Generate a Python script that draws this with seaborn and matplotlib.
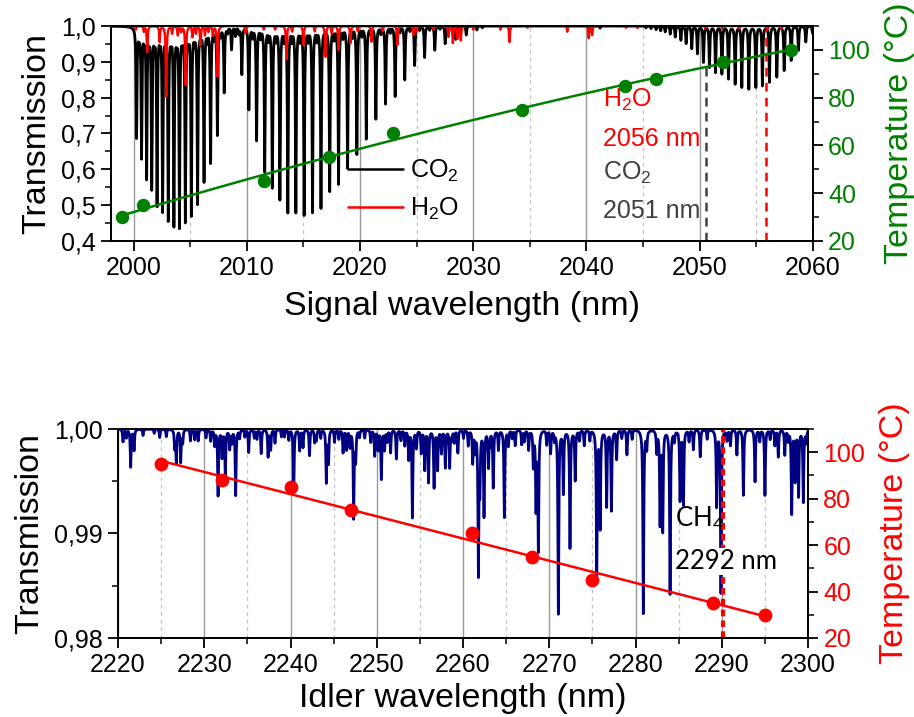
import numpy as np
import pandas as pd
import matplotlib
matplotlib.use('Agg')
import matplotlib.pyplot as plt
from matplotlib.ticker import MultipleLocator, FuncFormatter
from matplotlib.lines import Line2D
import seaborn as sns

# ---- top panel: CO2 / H2O line lists (centre nm, transmission at centre)
co2_nm = [2000.26, 2000.70, 2001.15, 2001.60, 2002.07, 2002.56, 2003.06, 2003.56,
          2004.05, 2004.57, 2005.10, 2005.65, 2006.22, 2006.80, 2007.40, 2008.00,
          2008.65, 2009.56, 2010.18, 2010.86, 2011.58, 2012.25, 2012.92, 2013.62,
          2014.33, 2015.06, 2015.80, 2016.55, 2017.32, 2018.10, 2018.90, 2019.72,
          2020.55, 2021.40, 2022.25, 2023.10, 2023.95, 2024.82, 2025.70, 2026.60,
          2027.52, 2028.45, 2029.38, 2030.32, 2040.3, 2041.2,
          2045.25, 2045.70, 2046.15, 2046.55, 2046.95, 2047.40, 2047.84, 2048.34,
          2048.80, 2049.30, 2049.80, 2050.33, 2050.86, 2051.40, 2051.96, 2052.54,
          2053.13, 2053.72, 2054.34, 2054.96, 2055.54, 2056.16, 2056.81, 2057.46,
          2058.08, 2058.72, 2059.37, 2059.96]
co2_t = [0.693, 0.640, 0.584, 0.556, 0.510, 0.493, 0.468, 0.453,
         0.449, 0.463, 0.481, 0.512, 0.573, 0.624, 0.700, 0.818,
         0.937, 0.868, 0.770, 0.684, 0.598, 0.553, 0.521, 0.485,
         0.485, 0.478, 0.485, 0.496, 0.543, 0.562, 0.607, 0.645,
         0.687, 0.742, 0.784, 0.805, 0.851, 0.891, 0.913, 0.933,
         0.951, 0.963, 0.975, 0.989, 0.995, 0.994,
         0.995, 0.993, 0.990, 0.987, 0.984, 0.978, 0.970, 0.961,
         0.952, 0.938, 0.924, 0.900, 0.886, 0.872, 0.868, 0.854,
         0.840, 0.831, 0.826, 0.831, 0.835, 0.845, 0.859, 0.877,
         0.905, 0.933, 0.956, 0.980]
# weak hot-band lines sitting between the strong ones
co2_weak_nm = [2000.48, 2000.93, 2001.38, 2001.84, 2002.32, 2002.81, 2003.31, 2003.81,
               2004.31, 2004.84, 2005.38, 2005.94, 2006.51, 2007.10, 2007.70, 2008.30,
               2009.00, 2009.30, 2010.52, 2011.22, 2011.92, 2012.58, 2013.27, 2013.98,
               2014.70, 2015.43, 2016.18, 2016.94, 2017.71, 2018.50, 2019.31, 2020.14,
               2020.98, 2021.83, 2022.68, 2023.52, 2024.40, 2025.26, 2026.15, 2027.06,
               2027.98, 2028.90, 2030.8]
co2_weak_t = [0.975, 0.972, 0.972, 0.970, 0.972, 0.968, 0.970, 0.968,
              0.968, 0.970, 0.970, 0.972, 0.972, 0.975, 0.980, 0.985,
              0.975, 0.982, 0.975, 0.975, 0.972, 0.972, 0.970, 0.970,
              0.970, 0.970, 0.970, 0.972, 0.972, 0.975, 0.975, 0.978,
              0.980, 0.982, 0.985, 0.985, 0.988, 0.990, 0.990, 0.992,
              0.993, 0.995, 0.995]
h2o_nm = [2000.20, 2000.90, 2001.20, 2002.30, 2002.88, 2003.40, 2003.90, 2004.20,
          2004.60, 2005.20, 2005.50, 2005.90, 2006.30, 2006.60, 2007.00, 2007.40,
          2009.90, 2011.50, 2012.50, 2013.50, 2014.00, 2015.00, 2016.00, 2016.95,
          2017.50, 2018.10, 2019.15, 2019.80, 2021.00, 2022.00, 2023.30, 2024.70,
          2025.00, 2026.50, 2027.80, 2028.20, 2028.60, 2028.90, 2030.00, 2032.40,
          2033.20, 2034.80, 2038.30, 2040.20, 2040.50, 2043.50, 2044.50, 2050.50,
          2052.00, 2053.50, 2056.00, 2057.20]
h2o_t = [0.990, 0.985, 0.928, 0.956, 0.803, 0.980, 0.975, 0.985,
         0.835, 0.970, 0.980, 0.947, 0.975, 0.985, 0.975, 0.859,
         0.980, 0.990, 0.990, 0.907, 0.985, 0.947, 0.985, 0.914,
         0.980, 0.933, 0.952, 0.985, 0.956, 0.985, 0.947, 0.975,
         0.984, 0.990, 0.970, 0.953, 0.965, 0.960, 0.990, 0.990,
         0.955, 0.995, 0.984, 0.966, 0.975, 0.995, 0.994, 0.993,
         0.992, 0.993, 0.990, 0.992]

sig_nm = [1999.0, 2000.8, 2011.5, 2017.3, 2022.9, 2034.3, 2043.4, 2046.1, 2052.1, 2058.1]
sig_temp = [30, 35, 45, 55, 65, 75, 85, 88, 95, 100]

# ---- bottom panel: CH4 line list
ch4_nm = [2220.58, 2220.97, 2221.47, 2221.86, 2224.20, 2224.83, 2226.57, 2226.76,
          2227.27, 2227.50, 2228.40, 2229.30, 2230.74, 2231.20, 2231.60, 2232.06,
          2232.44, 2232.95, 2233.64, 2234.10, 2234.70, 2235.15, 2235.80, 2236.60,
          2237.40, 2237.70, 2238.20, 2238.95, 2239.80, 2240.37, 2241.06, 2241.45,
          2242.20, 2242.80, 2243.50, 2244.15, 2244.40, 2245.10, 2246.09, 2246.50,
          2246.90, 2247.32, 2247.55, 2248.00, 2249.30, 2249.76, 2250.15, 2250.53,
          2250.90, 2251.60, 2252.27, 2253.25, 2253.70, 2254.13, 2254.60, 2255.15,
          2255.56, 2256.00, 2256.64, 2257.05, 2257.50, 2257.95, 2258.45, 2259.00,
          2259.40, 2260.05, 2260.60, 2261.12, 2261.40, 2261.78, 2261.95, 2262.43,
          2262.95, 2263.50, 2264.10, 2264.79, 2265.25, 2266.05, 2266.80, 2267.60,
          2268.15, 2268.46, 2268.73, 2269.70, 2270.15, 2271.05, 2271.63, 2272.40,
          2273.00, 2274.05, 2274.70, 2275.50, 2275.90, 2276.65, 2277.20, 2277.80,
          2279.00, 2280.90, 2281.30, 2282.45, 2282.84, 2283.15, 2284.00, 2285.16,
          2285.55, 2286.70, 2287.50, 2289.40, 2289.90, 2291.00, 2291.75, 2292.50,
          2293.85, 2295.00, 2296.15, 2296.55, 2297.30, 2298.10, 2298.50, 2298.90,
          2299.45,
          2222.9, 2225.6, 2228.9, 2230.2, 2233.2, 2236.1, 2239.3, 2243.0,
          2245.6, 2248.6, 2251.2, 2252.8, 2258.7, 2263.1, 2265.7, 2267.1,
          2270.6, 2273.5, 2278.4, 2279.6, 2284.5, 2286.2, 2288.3, 2290.6,
          2294.4, 2295.6, 2297.7, 2299.8]
ch4_t = [0.9988, 0.9992, 0.9964, 0.9980, 0.9996, 0.9992, 0.9983, 0.9969,
         0.9969, 0.9988, 0.9989, 0.9989, 0.9989, 0.9985, 0.9937, 0.9974,
         0.9954, 0.9982, 0.9937, 0.9992, 0.9993, 0.9978, 0.9992, 0.9977,
         0.9974, 0.9981, 0.9987, 0.9993, 0.9990, 0.9940, 0.9980, 0.9983,
         0.9975, 0.9988, 0.9992, 0.9950, 0.9969, 0.9988, 0.9978, 0.9981,
         0.9984, 0.9916, 0.9972, 0.9993, 0.9988, 0.9975, 0.9981, 0.9953,
         0.9981, 0.9978, 0.9972, 0.9985, 0.9972, 0.9916, 0.9983, 0.9978,
         0.9962, 0.9950, 0.9945, 0.9962, 0.9978, 0.9964, 0.9964, 0.9988,
         0.9978, 0.9992, 0.9985, 0.9969, 0.9981, 0.9865, 0.9950, 0.9918,
         0.9966, 0.9945, 0.9981, 0.9916, 0.9985, 0.9985, 0.9986, 0.9981,
         0.9966, 0.9926, 0.9886, 0.9986, 0.9978, 0.9824, 0.9940, 0.9887,
         0.9952, 0.9985, 0.9990, 0.9862, 0.9907, 0.9927, 0.9923, 0.9972,
         0.9976, 0.9824, 0.9983, 0.9979, 0.9911, 0.9905, 0.9843, 0.9933,
         0.9929, 0.9981, 0.9974, 0.9927, 0.9844, 0.9985, 0.9976, 0.9937,
         0.9950, 0.9937, 0.9985, 0.9974, 0.9976, 0.9920, 0.9952, 0.9937,
         0.9931,
         0.9994, 0.9993, 0.9990, 0.9992, 0.9988, 0.9991, 0.9993, 0.9990,
         0.9991, 0.9992, 0.9989, 0.9990, 0.9991, 0.9990, 0.9992, 0.9989,
         0.9991, 0.9990, 0.9992, 0.9991, 0.9990, 0.9989, 0.9991, 0.9990,
         0.9989, 0.9991, 0.9990, 0.9988]

idl_nm = [2225, 2232, 2240, 2247, 2261, 2268, 2275, 2289, 2295]
idl_temp = [95, 88, 85, 75, 65, 55, 45, 35, 30]


def spectrum(grid, centres, trans, hwhm):
    out = np.ones_like(grid)
    for c, t in zip(centres, trans):
        out -= (1 - t) / (1 + ((grid - c) / hwhm) ** 2)
    return out


sns.set_style('white')
plt.rcParams['font.family'] = ['Liberation Sans', 'DejaVu Sans']
plt.rcParams['mathtext.fontset'] = 'custom'
plt.rcParams['mathtext.rm'] = 'Liberation Sans'
plt.rcParams['mathtext.it'] = 'Liberation Sans:italic'
plt.rcParams['text.color'] = 'black'
plt.rcParams['axes.labelcolor'] = 'black'
plt.rcParams['xtick.color'] = 'black'
plt.rcParams['ytick.color'] = 'black'

GREEN = '#008000'
RED = '#ff0000'
NAVY = '#000080'
GREY = '#404040'
TICK = 18
LAB = 24.5

fig = plt.figure(figsize=(9.14, 7.17), dpi=100)
ax1 = fig.add_axes([0.1214, 0.6639, 0.768, 0.2999])
ax1r = ax1.twinx()
ax2 = fig.add_axes([0.1291, 0.1102, 0.755, 0.2915])
ax2r = ax2.twinx()

# top spectra
wl = np.linspace(1998, 2060, 14000)
top = pd.DataFrame({
    'wl': wl,
    'co2': spectrum(wl, co2_nm + co2_weak_nm, co2_t + co2_weak_t, 0.045),
    'h2o': spectrum(wl, h2o_nm, h2o_t, 0.045),
})
sns.lineplot(data=top, x='wl', y='co2', color='black', lw=2.0, ax=ax1,
             estimator=None, sort=False)
sns.lineplot(data=top, x='wl', y='h2o', color=RED, lw=1.7, ax=ax1,
             estimator=None, sort=False)
ax1.vlines(2050.6, 0.4, 0.9, colors=GREY, linestyles=(0, (3.5, 2.5)), lw=1.8)
ax1.vlines(2055.9, 0.4, 1.0, colors=RED, linestyles=(0, (3.5, 2.5)), lw=1.8)

sns.regplot(x=sig_nm, y=sig_temp, order=2, ci=None, color=GREEN, ax=ax1r,
            scatter_kws={'s': 75, 'alpha': 1, 'zorder': 3},
            line_kws={'lw': 1.8})

# bottom spectrum
wl2 = np.linspace(2220, 2300, 16000)
bot = pd.DataFrame({'wl': wl2, 'ch4': spectrum(wl2, ch4_nm, ch4_t, 0.06)})
sns.lineplot(data=bot, x='wl', y='ch4', color=NAVY, lw=2.0, ax=ax2,
             estimator=None, sort=False)
ax2.vlines(2290.1, 0.98, 1.0, colors=RED, linestyles=(0, (1.6, 1.0)), lw=3)

sns.regplot(x=idl_nm, y=idl_temp, order=1, ci=None, color=RED, ax=ax2r,
            scatter_kws={'s': 80, 'alpha': 1, 'zorder': 3},
            line_kws={'lw': 1.8})

# axes cosmetics
ax1.set_xlim(1998, 2060)
ax1.set_ylim(0.4, 1.0)
ax1r.set_ylim(20, 110)
ax2.set_xlim(2220, 2300)
ax2.set_ylim(0.98, 1.0)
ax2r.set_ylim(20, 110)

ax1.yaxis.set_major_locator(MultipleLocator(0.1))
ax1.yaxis.set_minor_locator(MultipleLocator(0.05))
ax1.yaxis.set_major_formatter(FuncFormatter(lambda v, p: f'{v:.1f}'.replace('.', ',')))
ax2.yaxis.set_major_locator(MultipleLocator(0.01))
ax2.yaxis.set_minor_locator(MultipleLocator(0.005))
ax2.yaxis.set_major_formatter(FuncFormatter(lambda v, p: f'{v:.2f}'.replace('.', ',')))

for ax in (ax1, ax2):
    ax.xaxis.set_major_locator(MultipleLocator(10))
    ax.xaxis.set_minor_locator(MultipleLocator(5))
    ax.grid(which='major', axis='x', color='#999999', lw=1.0)
    ax.grid(which='minor', axis='x', color='#c4c4c4', lw=0.9, ls=(0, (3, 3)))
    ax.set_axisbelow(True)
    ax.tick_params(which='major', direction='out', length=7, width=1.3,
                   labelsize=TICK, colors='black', bottom=True, left=True, pad=4)
    ax.tick_params(which='minor', direction='out', length=4, width=1.1,
                   bottom=True, left=True)
    ax.set_ylabel('Transmission', fontsize=LAB, labelpad=6)

for axr, col in ((ax1r, GREEN), (ax2r, RED)):
    axr.yaxis.set_major_locator(MultipleLocator(20))
    axr.yaxis.set_minor_locator(MultipleLocator(10))
    axr.tick_params(which='major', direction='out', length=7, width=1.3,
                    labelsize=TICK, labelcolor=col, right=True, pad=4)
    axr.tick_params(which='minor', direction='out', length=4, width=1.1, right=True)
    axr.set_ylabel('Temperature (°C)', fontsize=LAB, color=col, labelpad=10)
    axr.grid(False)

for ax in (ax1, ax1r, ax2, ax2r):
    for s in ax.spines.values():
        s.set_color('black')
        s.set_linewidth(1.3)

ax1.set_xlabel('Signal wavelength (nm)', fontsize=LAB, labelpad=8)
ax2.set_xlabel('Idler wavelength (nm)', fontsize=LAB, labelpad=4)

# legend
handles = [Line2D([], [], color='black', lw=1.8), Line2D([], [], color=RED, lw=1.8)]
ax1.legend(handles, ['CO$_\\mathregular{2}$', 'H$_\\mathregular{2}$O'], frameon=False,
           fontsize=18, loc='upper left', bbox_to_anchor=(0.305, 0.49),
           handlelength=2.2, handletextpad=0.3, labelspacing=0.45)

# annotations
ax1.text(2041.5, 0.775, 'H$_\\mathregular{2}$O', color=RED, fontsize=18)
ax1.text(2041.5, 0.665, '2056 nm', color=RED, fontsize=18)
ax1.text(2041.5, 0.570, 'CO$_\\mathregular{2}$', color=GREY, fontsize=18)
ax1.text(2041.5, 0.463, '2051 nm', color=GREY, fontsize=18)

ax2.text(2284.6, 0.9906, 'CH$_\\mathregular{4}$', color='black', fontsize=18.5,
         family=['Lato', 'DejaVu Sans'])
ax2.text(2284.6, 0.9866, '2292 nm', color='black', fontsize=18.5, zorder=5,
         family=['Lato', 'DejaVu Sans'],
         bbox=dict(facecolor='white', edgecolor='none', pad=0.5))

fig.savefig('out.png', dpi=100)
